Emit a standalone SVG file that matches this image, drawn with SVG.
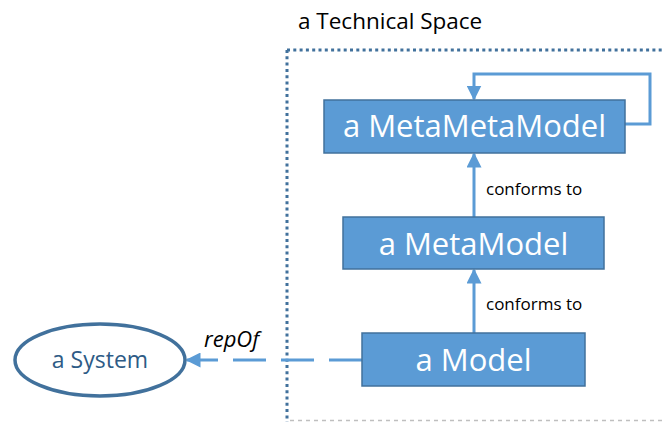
<svg xmlns="http://www.w3.org/2000/svg" width="665" height="422" viewBox="0 0 665 422">
<defs>
<style>
.box{fill:#5b9bd5;stroke:#41719c;stroke-width:1.5}
.bt{font-family:"Open Sans","Liberation Sans",sans-serif;font-size:31px;fill:#fff;text-anchor:middle}
.lbl{font-family:"Open Sans","Liberation Sans",sans-serif;font-size:17px;fill:#000}
.conn{fill:none;stroke:#5b9bd5;stroke-width:3}
</style>
<marker id="ah" viewBox="0 0 10 10" refX="9" refY="5" markerWidth="5" markerHeight="5" orient="auto" markerUnits="strokeWidth">
<path d="M0,0 L10,5 L0,10 z" fill="#5b9bd5"/>
</marker>
</defs>
<rect width="665" height="422" fill="#fff"/>
<g id="technical-space">
<path d="M287,50 H668 M287,50 V422" fill="none" stroke="#41719c" stroke-width="3" stroke-dasharray="3 3.3"/>
<path d="M290,420.5 H665" fill="none" stroke="#bfbfbf" stroke-width="1.5" stroke-dasharray="4 4"/>
<text x="298" y="29" font-family="'Open Sans','Liberation Sans',sans-serif" font-size="22.5" fill="#000">a Technical Space</text>
</g>
<g id="connectors">
<path class="conn" d="M625,124 H650 V74 H474 V99" marker-end="url(#ah)"/>
<path class="conn" d="M474,217 V154" marker-end="url(#ah)"/>
<path class="conn" d="M474,333 V270" marker-end="url(#ah)"/>
<path class="conn" d="M362,360 H187" stroke-dasharray="33 15" marker-end="url(#ah)"/>
<text class="lbl" x="486" y="195">conforms to</text>
<text class="lbl" x="486" y="310">conforms to</text>
<text x="204" y="347" font-family="'Open Sans','Liberation Sans',sans-serif" font-size="22" font-style="italic" fill="#000">repOf</text>
</g>
<g id="metametamodel">
<rect class="box" x="324" y="100" width="301" height="53"/>
<text class="bt" x="474.5" y="137">a MetaMetaModel</text>
</g>
<g id="metamodel">
<rect class="box" x="343" y="217" width="261" height="52"/>
<text class="bt" x="473.5" y="255">a MetaModel</text>
</g>
<g id="model">
<rect class="box" x="362" y="333" width="223" height="53"/>
<text class="bt" x="473.5" y="371">a Model</text>
</g>
<g id="system">
<ellipse cx="100" cy="360" rx="85" ry="36" fill="#fff" stroke="#41719c" stroke-width="3.5"/>
<text x="100" y="368" text-anchor="middle" font-family="'Open Sans','Liberation Sans',sans-serif" font-size="23" fill="#2e5b86">a System</text>
</g>
</svg>
